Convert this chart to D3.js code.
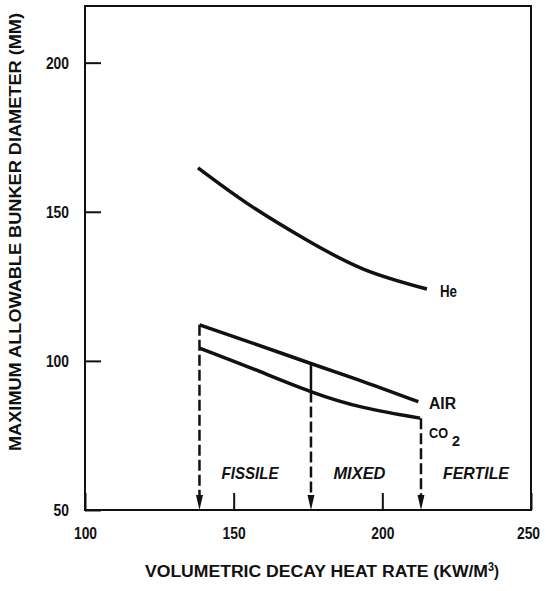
<!DOCTYPE html>
<html>
  <head>
    <meta charset="utf-8">
    <title>Bunker diameter</title>
    <script src="https://d3js.org/d3.v7.min.js"></script>
    <style>
      body { margin: 0; background: #fff; }
      text { font-family: "Liberation Sans", Arial, sans-serif; font-weight: bold; fill: #111; }
    </style>
  </head>
  <body>
  </body>
</html>

<script>
  var width = 546
  var height = 591
  var margin = {left: 85, top: 6, right: 15, bottom: 81}

  // curves
  var heX = [138, 154.4, 173.4, 193.6, 215]
  var heY = [164.7, 152.9, 141.2, 130.8, 124.1]
  var airX = [138.5, 156.6, 175.7, 194, 212.1]
  var airY = [112.1, 105.9, 99.2, 92.9, 86.3]
  var co2X = [138.5, 156.6, 175.7, 193.6, 212.7]
  var co2Y = [104.3, 97.3, 89.8, 84.4, 80.8]

  // region boundaries and labels
  var bounds = [138.5, 176, 213]
  var regions = ["FISSILE", "MIXED", "FERTILE"]
  var regionX = [155.5, 192.3, 231.5]

  var xTicks = [100, 150, 200, 250]
  var yTicks = [50, 100, 150, 200]

  var x = d3.scaleLinear().domain([100, 250]).range([margin.left, width - margin.right])
  var y = d3.scaleLinear().domain([50, 219]).range([height - margin.bottom, margin.top])

  // squeeze text to the narrow lettering of the original
  function fit(sel, w) {
    sel.attr("textLength", w).attr("lengthAdjust", "spacingAndGlyphs")
  }

  var svg = d3.select("body")
              .append("svg")
              .attr("width", width)
              .attr("height", height)

  //axes (ticks point inward)
  svg.append("g")
     .attr("transform", "translate(" + margin.left + ",0)")
     .call(d3.axisLeft(y).tickValues(yTicks).tickSize(-16).tickPadding(16).tickFormat(d3.format("d")))
  svg.append("g")
     .attr("transform", "translate(0," + y(50) + ")")
     .call(d3.axisBottom(x).tickValues(xTicks).tickSize(-17).tickPadding(17).tickFormat(d3.format("d")))

  svg.selectAll(".domain").remove()
  svg.selectAll(".tick line").attr("stroke", "#111").attr("stroke-width", 2)
  svg.selectAll(".tick text")
     .attr("font-size", 17)
     .attr("font-family", null)
     .each(function(d) { fit(d3.select(this), String(d).length * 7.7) })
  // last label sits against the page edge
  svg.selectAll(".tick text").filter(function(d) { return d === 250 }).attr("dx", -3)

  svg.append("rect")
     .attr("x", x(100))
     .attr("y", y(219))
     .attr("width", x(250) - x(100))
     .attr("height", y(50) - y(219))
     .attr("fill", "none")
     .attr("stroke", "#111")
     .attr("stroke-width", 2)

  var line = d3.line()
               .x(function(d) { return x(d[0]) })
               .y(function(d) { return y(d[1]) })
               .curve(d3.curveNatural)

  var series = [
    {name: "He", xs: heX, ys: heY},
    {name: "AIR", xs: airX, ys: airY},
    {name: "CO2", xs: co2X, ys: co2Y}
  ]

  svg.selectAll("path.curve")
     .data(series)
     .enter()
     .append("path")
     .attr("class", "curve")
     .attr("d", function(s) { return line(s.xs.map(function(v, i) { return [v, s.ys[i]] })) })
     .attr("fill", "none")
     .attr("stroke", "#111")
     .attr("stroke-width", 3.5)

  // vertical boundary lines: top of each starts at a curve
  var airAt = d3.scaleLinear().domain(airX).range(airY)
  var co2At = d3.scaleLinear().domain(co2X).range(co2Y)
  var tops = [airAt(bounds[0]), co2At(bounds[1]), co2At(bounds[2])]

  // solid piece between AIR and CO2 at the mixed boundary
  svg.append("line")
     .attr("x1", x(bounds[1])).attr("x2", x(bounds[1]))
     .attr("y1", y(airAt(bounds[1]))).attr("y2", y(co2At(bounds[1])))
     .attr("stroke", "#111").attr("stroke-width", 2.5)

  svg.selectAll("line.bound")
     .data(bounds)
     .enter()
     .append("line")
     .attr("class", "bound")
     .attr("x1", function(d) { return x(d) })
     .attr("x2", function(d) { return x(d) })
     .attr("y1", function(d, i) { return y(tops[i]) })
     .attr("y2", y(50) - 12)
     .attr("stroke", "#111")
     .attr("stroke-width", 2.5)
     .attr("stroke-dasharray", "11,4")

  svg.selectAll("path.arrow")
     .data(bounds)
     .enter()
     .append("path")
     .attr("class", "arrow")
     .attr("d", function(d) {
        var px = x(d), py = y(50)
        return "M" + (px - 3.5) + "," + (py - 15) + "L" + (px + 3.5) + "," + (py - 15) + "L" + px + "," + py + "Z"
     })
     .attr("fill", "#111")

  var regionW = [57, 52, 66]
  svg.selectAll("text.region")
     .data(regions)
     .enter()
     .append("text")
     .attr("class", "region")
     .attr("x", function(d, i) { return x(regionX[i]) })
     .attr("y", y(50) - 31)
     .attr("text-anchor", "middle")
     .attr("font-size", 17)
     .attr("font-style", "italic")
     .text(function(d) { return d })
     .each(function(d, i) { fit(d3.select(this), regionW[i]) })

  // curve labels
  svg.append("text").attr("x", 440).attr("y", y(heY[4]) + 8)
     .attr("font-size", 16).text("He").call(fit, 17)
  svg.append("text").attr("x", 429).attr("y", y(airY[4]) + 7)
     .attr("font-size", 16).text("AIR").call(fit, 27)
  svg.append("text").attr("x", 429).attr("y", y(co2Y[4]) + 20)
     .attr("font-size", 15).text("CO").call(fit, 19)
  svg.append("text").attr("x", 452).attr("y", y(co2Y[4]) + 28)
     .attr("font-size", 15).text("2").call(fit, 8)

  // axis titles
  var xt = svg.append("text")
     .attr("x", 145).attr("y", 577)
     .attr("font-size", 16)
  xt.append("tspan").text("VOLUMETRIC DECAY HEAT RATE (KW/M").call(fit, 343)
  xt.append("tspan").attr("dy", -6).attr("font-size", 12).text("3").call(fit, 6)
  xt.append("tspan").attr("dy", 6).text(")").call(fit, 5)

  svg.append("text")
     .attr("transform", "translate(21,232) rotate(-90)")
     .attr("text-anchor", "middle")
     .attr("font-size", 16)
     .text("MAXIMUM ALLOWABLE BUNKER DIAMETER (MM)")
     .call(fit, 438)
</script>
